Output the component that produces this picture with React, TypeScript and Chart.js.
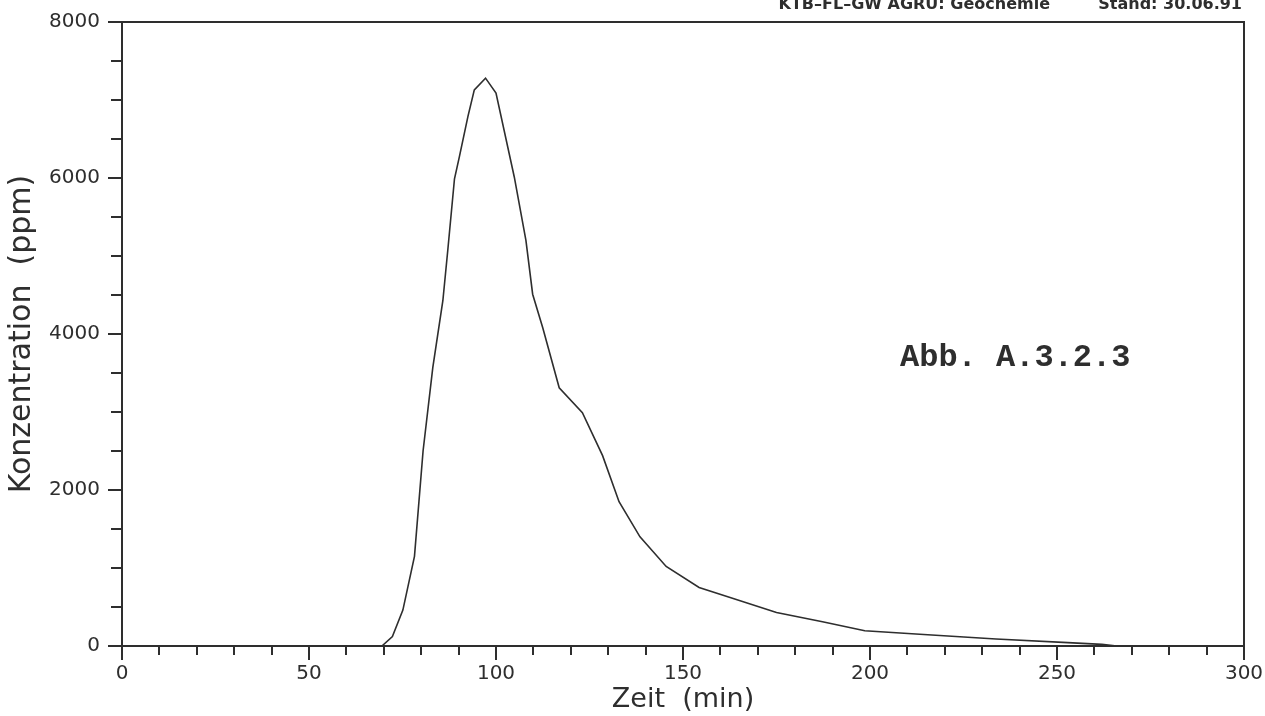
import React, { useEffect, useRef } from "react";
import { Chart, registerables } from "chart.js";

Chart.register(...registerables);

// ---- data ----
const timeMin = [
  0, 69.5, 72.3, 75.1, 78.2, 80.5, 83.1, 85.8, 87.1, 88.9, 90.2, 92.5, 94.2,
  97.2, 100.0, 104.9, 108.0, 109.8, 112.5, 116.9, 123.1, 128.5, 132.9, 138.5,
  145.5, 154.3, 162.8, 175.0, 187.3, 198.6, 213.3, 233.7, 252.9, 262.0, 266.0,
  300.0,
];
const concPpm = [
  0, 0, 120, 460, 1150, 2500, 3570, 4430, 5070, 5990, 6270, 6790, 7130, 7280,
  7090, 6010, 5200, 4510, 4080, 3310, 2990, 2440, 1850, 1400, 1020, 750, 620,
  430, 310, 195, 150, 90, 43, 21, 0, 0,
];

const xMin = 0;
const xMax = 300;
const xTickStep = 10;
const xLabelStep = 50;
const yMin = 0;
const yMax = 8000;
const yTickStep = 500;
const yLabelStep = 2000;

const xTitle = "Zeit  (min)";
const yTitle = "Konzentration  (ppm)";
const figureLabel = "Abb. A.3.2.3";
const headerLeft = "KTB–FL–GW AGRU: Geochemie";
const headerRight = "Stand: 30.06.91";

const INK = "#2e2e2e";
const SANS = "'DejaVu Sans', sans-serif";

const decorPlugin = {
  id: "decor",
  afterDraw(chart: any) {
    const { ctx, chartArea: a, scales } = chart;
    ctx.save();
    ctx.strokeStyle = INK;
    ctx.lineWidth = 2;
    ctx.lineCap = "butt";
    ctx.strokeRect(a.left, a.top, a.right - a.left, a.bottom - a.top);

    const xs = scales.x;
    for (const t of xs.ticks) {
      const px = Math.round(xs.getPixelForValue(t.value));
      const len = t.value % xLabelStep === 0 ? 14 : 9;
      ctx.beginPath();
      ctx.moveTo(px, a.bottom);
      ctx.lineTo(px, a.bottom + len);
      ctx.stroke();
    }
    const ys = scales.y;
    for (const t of ys.ticks) {
      const py = Math.round(ys.getPixelForValue(t.value));
      const len = t.value % yLabelStep === 0 ? 14 : 11;
      ctx.beginPath();
      ctx.moveTo(a.left, py);
      ctx.lineTo(a.left - len, py);
      ctx.stroke();
    }

    ctx.fillStyle = INK;
    ctx.textBaseline = "alphabetic";
    ctx.font = "bold 32px 'Liberation Mono', monospace";
    ctx.textAlign = "left";
    ctx.fillText(figureLabel, 900, 366);

    ctx.font = "bold 16px " + SANS;
    ctx.textAlign = "right";
    ctx.fillText(headerRight, 1242, 9);
    ctx.fillText(headerLeft, 1050, 9);
    ctx.restore();
  },
};

export default function App() {
  const ref = useRef<HTMLCanvasElement | null>(null);

  useEffect(() => {
    if (!ref.current) return;
    const chart = new Chart(ref.current, {
      type: "line",
      data: {
        datasets: [
          {
            data: timeMin.map((t, i) => ({ x: t, y: concPpm[i] })),
            borderColor: INK,
            borderWidth: 1.6,
            pointRadius: 0,
            tension: 0,
            fill: false,
          },
        ],
      },
      options: {
        animation: false,
        responsive: false,
        maintainAspectRatio: false,
        layout: { padding: { top: 22, right: 21, left: 0, bottom: 0 } },
        plugins: {
          legend: { display: false },
          tooltip: { enabled: false },
        },
        scales: {
          x: {
            type: "linear",
            min: xMin,
            max: xMax,
            grid: { display: false, drawTicks: false },
            border: { display: false },
            ticks: {
              stepSize: xTickStep,
              autoSkip: false,
              maxRotation: 0,
              padding: 16,
              color: INK,
              font: { family: SANS, size: 20 },
              callback: (v: any) => (Number(v) % xLabelStep === 0 ? String(v) : ""),
            },
            title: {
              display: true,
              text: xTitle,
              color: INK,
              font: { family: SANS, size: 27 },
              padding: 0,
            },
            afterFit: (s: any) => {
              s.height = 70;
              s.paddingLeft = 0;
              s.paddingRight = 0;
            },
          },
          y: {
            type: "linear",
            min: yMin,
            max: yMax,
            grid: { display: false, drawTicks: false },
            border: { display: false },
            ticks: {
              stepSize: yTickStep,
              autoSkip: false,
              padding: 22,
              color: INK,
              font: { family: SANS, size: 20 },
              callback: (v: any) => (Number(v) % yLabelStep === 0 ? String(v) : ""),
            },
            title: {
              display: true,
              text: yTitle,
              color: INK,
              font: { family: SANS, size: 30 },
              padding: { top: 4, bottom: 0 },
            },
            afterFit: (s: any) => {
              s.width = 122;
              s.paddingTop = 0;
              s.paddingBottom = 0;
            },
          },
        },
      },
      plugins: [decorPlugin],
    });
    return () => chart.destroy();
  }, []);

  return (
    <div style={{ position: "absolute", left: 0, top: 0, width: 1265, height: 716, background: "#fff" }}>
      <canvas ref={ref} width={1265} height={716} style={{ display: "block" }} />
    </div>
  );
}
